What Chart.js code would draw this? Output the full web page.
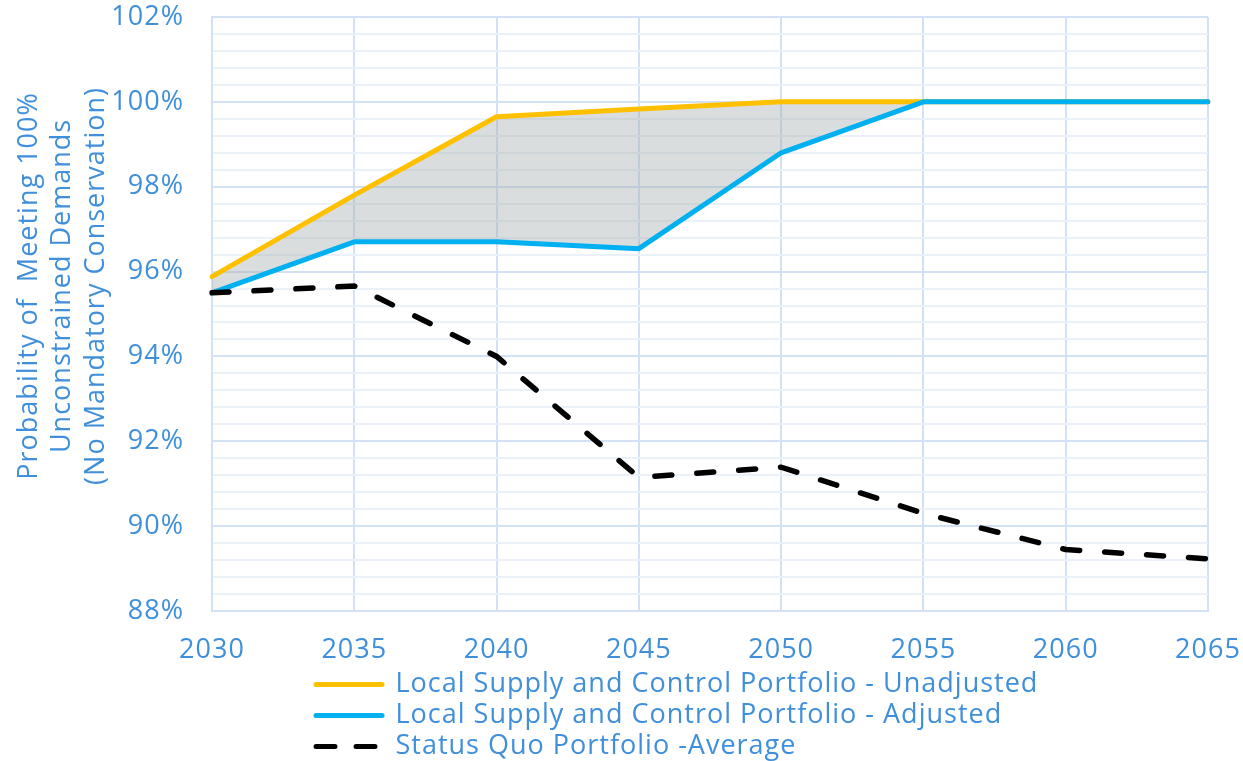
<!DOCTYPE html>
<html><head><meta charset="utf-8">
<script src="https://cdn.jsdelivr.net/npm/chart.js@4.4.1/dist/chart.umd.min.js"></script>
<style>html,body{margin:0;padding:0;background:#fff;}canvas{display:block}</style>
</head><body>
<canvas id="c" width="1243" height="761"></canvas>
<script>
const years = ['2030', '2035', '2040', '2045', '2050', '2055', '2060', '2065'];
const unadjusted = [95.88, 97.8, 99.65, 99.83, 100, 100, 100, 100];
const adjusted = [95.5, 96.7, 96.7, 96.54, 98.8, 100, 100, 100];
const statusQuo = [95.5, 95.66, 94.0, 91.15, 91.39, 90.3, 89.45, 89.23];
const seriesNames = [
  'Local Supply and Control Portfolio - Unadjusted',
  'Local Supply and Control Portfolio - Adjusted',
  'Status Quo Portfolio -Average'
];
const yTitleLines = ['Probability of  Meeting 100%', 'Unconstrained Demands', '(No Mandatory Conservation)'];
const yMin = 88, yMax = 102, yMinorStep = 0.4, yMajorStep = 2;

const TEXT = '#3F8FDB';
const GRID_MAJOR = '#D2E2F4';
const GRID_MINOR = '#EBF1F9';
const FONT = "'Open Sans'";
const isMajor = v => Math.abs(v / yMajorStep - Math.round(v / yMajorStep)) < 1e-6;

const widerText = {
  id: 'widerText',
  beforeInit(chart) { if ('letterSpacing' in chart.ctx) chart.ctx.letterSpacing = '1px'; },
  beforeUpdate(chart) { if ('letterSpacing' in chart.ctx) chart.ctx.letterSpacing = '1px'; }
};

const legendShift = {
  id: 'legendShift',
  afterLayout(chart) {
    const l = chart.legend;
    const dx = 312 - l.left;
    l.left += dx; l.right += dx;
    l.top += 9; l.bottom += 9;
  }
};

new Chart(document.getElementById('c'), {
  type: 'line',
  data: {
    labels: years,
    datasets: [
      {
        label: seriesNames[0], data: unadjusted,
        borderColor: '#FFC000', borderWidth: 5, pointRadius: 0,
        fill: '+1', backgroundColor: 'rgba(165,173,173,0.42)',
        tension: 0, order: 3, borderCapStyle: 'round', borderJoinStyle: 'round'
      },
      {
        label: seriesNames[1], data: adjusted,
        borderColor: '#00B0F0', borderWidth: 5, pointRadius: 0,
        fill: false, tension: 0, order: 2, borderCapStyle: 'round', borderJoinStyle: 'round'
      },
      {
        label: seriesNames[2], data: statusQuo,
        borderColor: '#000000', borderWidth: 5.5, pointRadius: 0,
        borderDash: [17, 25], borderCapStyle: 'round',
        fill: false, tension: 0, order: 1
      }
    ]
  },
  options: {
    responsive: false,
    devicePixelRatio: 1,
    animation: false,
    layout: { padding: 0 },
    plugins: {
      tooltip: { enabled: false },
      legend: {
        position: 'bottom',
        align: 'start',
        fullSize: false,
        labels: {
          usePointStyle: true,
          pointStyle: 'line',
          pointStyleWidth: 66,
          boxHeight: 28,
          padding: 4,
          color: TEXT,
          font: { family: FONT, size: 27 },
          sort: (a, b) => a.datasetIndex - b.datasetIndex,
          generateLabels(chart) {
            const items = Chart.defaults.plugins.legend.labels.generateLabels(chart);
            items.forEach(it => {
              const ds = chart.data.datasets[it.datasetIndex];
              it.lineCap = 'round';
              it.lineWidth = 5;
              it.strokeStyle = ds.borderColor;
              it.lineDash = ds.borderDash ? [19, 21] : [];
            });
            return items;
          }
        }
      }
    },
    scales: {
      x: {
        type: 'category',
        offset: false,
        grid: { color: GRID_MAJOR, lineWidth: 2, drawTicks: false },
        border: { color: GRID_MAJOR, width: 2 },
        ticks: { color: TEXT, font: { family: FONT, size: 27 }, padding: 23, maxRotation: 0, autoSkip: false },
        afterFit(s) { s.height = 47; s.paddingLeft = 0; s.paddingRight = 35; }
      },
      y: {
        min: yMin, max: yMax,
        grid: {
          drawTicks: false,
          lineWidth: 2,
          color: c => isMajor(c.tick.value) ? GRID_MAJOR : GRID_MINOR
        },
        border: { color: GRID_MAJOR, width: 2 },
        ticks: {
          stepSize: yMinorStep,
          autoSkip: false,
          color: TEXT,
          font: { family: FONT, size: 27 },
          padding: 28,
          callback: v => isMajor(v) ? Math.round(v) + '%' : ''
        },
        title: {
          display: true,
          text: yTitleLines.map(t => '       ' + t),
          color: TEXT,
          font: { family: FONT, size: 27, lineHeight: 1.25 },
          padding: { top: 12, bottom: 0 }
        },
        afterFit(s) { s.width = 212; s.paddingTop = 17; s.paddingBottom = 0; }
      }
    }
  },
  plugins: [widerText, legendShift]
});
</script>
</body></html>
